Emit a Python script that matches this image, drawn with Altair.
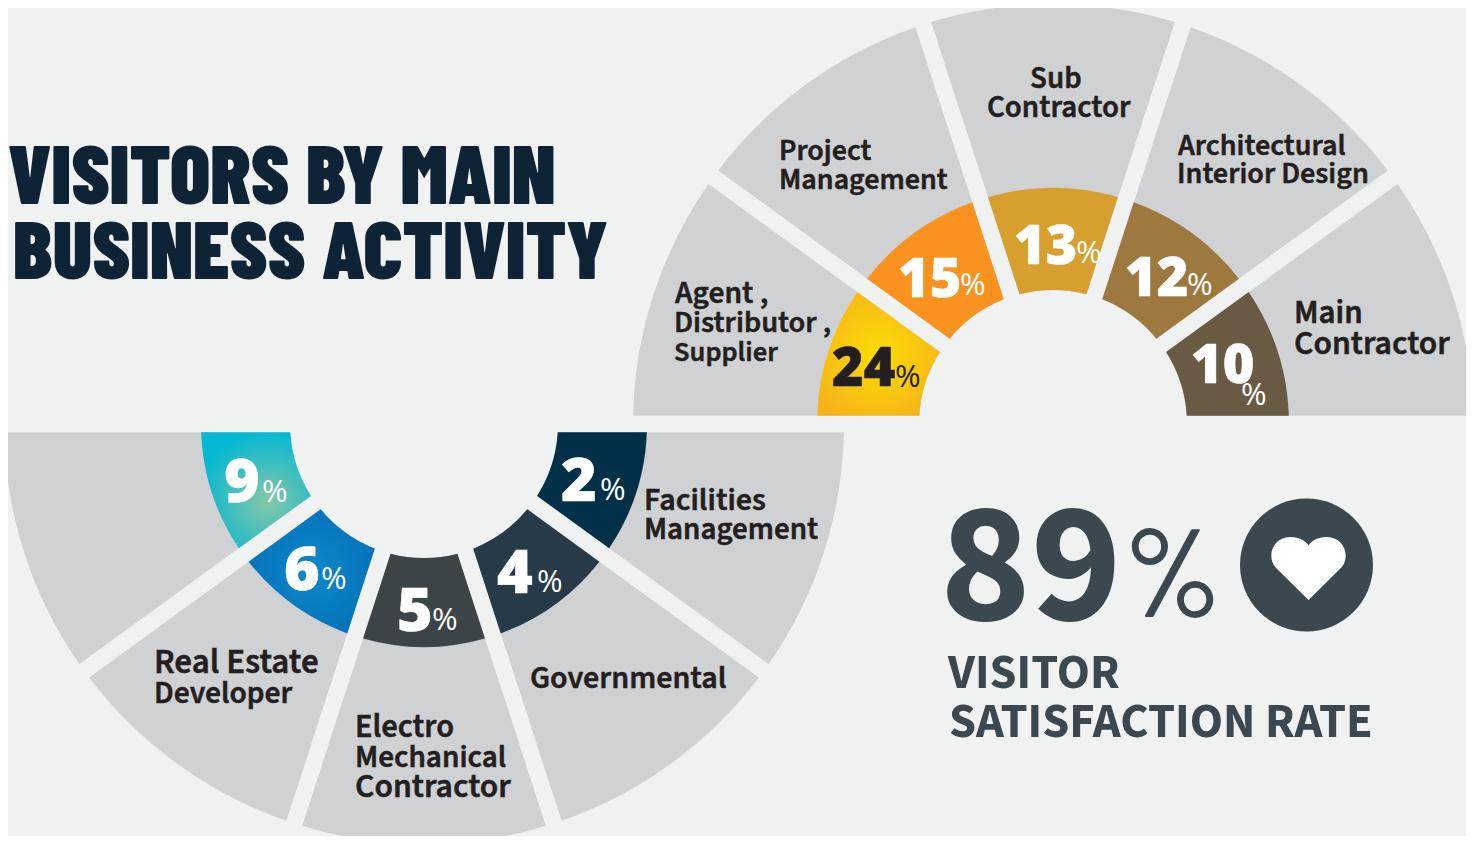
import altair as alt
import pandas as pd

OX, OY = 8, 8  # page margin
BG = "#f0f2f1"
GREY = "#d0d1d3"
INK = "#231f20"
SLATE = "#3b4850"
SOURCE = "'Source Sans 3', 'Source Sans Pro', 'Open Sans', sans-serif"
TITLE_FONT = "'Barlow Condensed', 'Liberation Sans', sans-serif"
NARROW = "'Barlow Condensed', 'Open Sans', sans-serif"

upper_names = ["Agent , Distributor , Supplier", "Project Management", "Sub Contractor",
               "Architectural Interior Design", "Main Contractor"]
upper_values = [24, 15, 13, 12, 10]
upper_colors = ["#f8c810", "#f9921f", "#d69f2e", "#9d7940", "#685a43"]

lower_names = ["Facilities Management", "Governmental", "Electro Mechanical Contractor",
               "Real Estate Developer", ""]
lower_values = [2, 4, 5, 6, 9]
lower_colors = ["#003148", "#263a47", "#3d4447", "#0a7cc1", "#4fbfc0"]

satisfaction = 89
SLICE = 36


def table(values, colors, first):
    return pd.DataFrame({
        "value": values,
        "color": colors,
        "start": [first + SLICE * i for i in range(len(values))],
        "end": [first + SLICE * (i + 1) for i in range(len(values))],
    })


up = table(upper_values, upper_colors, -90)
lo = table(lower_values, lower_colors, 90)
one = pd.DataFrame({"a": [0]})

theta_scale = alt.Scale(domain=[-90, 270], range=[-1.5707963, 4.7123890])


def slices(df, cx, cy, r2, r1, pad, fill=None):
    kw = dict(radius=r1, radius2=r2, padAngle=pad)
    enc = dict(
        theta=alt.Theta("start:Q", scale=theta_scale),
        theta2=alt.Theta2("end:Q"),
        x=alt.value(cx - OX),
        y=alt.value(cy - OY),
    )
    if fill is None:
        return alt.Chart(df).mark_arc(**kw).encode(color=alt.Color("color:N", scale=None), **enc)
    return alt.Chart(df).mark_arc(fill=fill, **kw).encode(**enc)


def radial(inner, outer, cx=0.5, cy=0.5, r=0.6):
    return alt.RadialGradient(
        gradient="radial", x1=cx, y1=cy, x2=cx, y2=cy, r1=0, r2=r,
        stops=[alt.GradientStop(color=inner, offset=0), alt.GradientStop(color=outer, offset=1)],
    )


def txt(s, x, y, size, color=INK, font=SOURCE, weight="bold", stroke=0.0, align="left"):
    kw = dict(font=font, fontSize=size, fontWeight=weight, color=color, align=align, baseline="alphabetic")
    if stroke:
        kw.update(stroke=color, strokeWidth=stroke)
    return alt.Chart(one).mark_text(**kw).encode(
        x=alt.value(x - OX), y=alt.value(y - OY), text=alt.value(s))


def pct(v, x, y, px, py, color="white", size=54):
    return [
        txt(str(v), x, y, size, color=color, font="Open Sans", weight=800, stroke=0.6),
        txt("%", px, py, 31, color=color, font="Open Sans", weight="normal"),
    ]


layers = []
# grey sectors
layers.append(slices(up.assign(color=GREY), 1053, 424, 134, 420, 0.0376))
layers.append(slices(lo.assign(color=GREY), 424, 424, 134, 420, 0.0376))
# coloured rings
layers.append(slices(up[up.value != 24], 1053, 424, 134, 236, 0.0612))
layers.append(slices(up[up.value == 24], 1053, 424, 134, 236, 0.0612,
                     fill=radial("#fbdc03", "#f6b41a")))
layers.append(slices(lo[~lo.value.isin([6, 9])], 424, 424, 134, 223, 0.0638))
layers.append(slices(lo[lo.value == 9], 424, 424, 134, 223, 0.0638,
                     fill=radial("#85c7a6", "#06b8d2", cx=0.6, cy=0.6)))
layers.append(slices(lo[lo.value == 6], 424, 424, 134, 223, 0.0638,
                     fill=radial("#0d88ca", "#046fb8")))

# title
layers.append(txt("VISITORS BY MAIN", 8, 204, 83, color="#0e2335", font=TITLE_FONT, weight=900))
layers.append(txt("BUSINESS ACTIVITY", 13, 279, 82, color="#0e2335", font=TITLE_FONT, weight=900))

# percentages
layers += pct(24, 832, 386, 895, 387, color=INK)
layers += pct(15, 898, 297, 960, 295)
layers += pct(13, 1014, 264, 1076, 263)
layers += pct(12, 1125, 296, 1187, 295)
layers += pct(10, 1191, 383, 1241, 405)
layers += pct(9, 224, 502, 262, 502, size=61)
layers += pct(6, 284, 590, 321, 589, size=61)
layers += pct(5, 397, 631, 432, 630, size=61)
layers += pct(4, 497, 593, 537, 592, size=61)
layers += pct(2, 561, 501, 600, 500, size=61)

# sector labels
for s, x, y, size in [
    ("Agent ,", 675, 303, 31.5), ("Distributor ,", 674, 332, 30.5), ("Supplier", 674, 361, 28.5),
    ("Project", 779, 160, 30), ("Management", 779, 189, 30),
    ("Sub", 1030, 88, 31), ("Contractor", 987, 117, 31),
    ("Architectural", 1178, 155, 30.2), ("Interior Design", 1177, 183, 30.2),
    ("Main", 1294, 323, 33), ("Contractor", 1294, 354, 33.7),
    ("Facilities", 644, 510, 32), ("Management", 644, 539, 31),
    ("Governmental", 530, 688, 32),
    ("Real Estate", 154, 673, 35), ("Developer", 154, 703, 31.5),
    ("Electro", 355, 737, 32.6), ("Mechanical", 355, 767, 31.2), ("Contractor", 355, 797, 33.7),
]:
    layers.append(txt(s, x, y, size, weight=600, stroke=0.5))

# satisfaction block
layers.append(txt(str(satisfaction), 940, 620, 172, color=SLATE))
layers.append(txt("%", 1124, 617, 125, color=SLATE, font=NARROW, weight=500))
layers.append(txt("VISITOR", 948, 688, 48.5, color=SLATE))
layers.append(txt("SATISFACTION RATE", 949, 737, 48.7, color=SLATE))
layers.append(alt.Chart(one).mark_circle(size=17689, color=SLATE, opacity=1).encode(
    x=alt.value(1306.5 - OX), y=alt.value(565 - OY)))
HEART = ("M0,0.863 L-0.9,-0.03 C-1.15,-0.3 -1,-0.863 -0.5,-0.863 C-0.25,-0.863 -0.08,-0.75 0,-0.64 "
         "C0.08,-0.75 0.25,-0.863 0.5,-0.863 C1,-0.863 1.15,-0.3 0.9,-0.03 Z")
layers.append(alt.Chart(one).mark_point(shape=HEART, size=5329, filled=True, color="white", opacity=1).encode(
    x=alt.value(1308.5 - OX), y=alt.value(568.5 - OY)))

chart = alt.layer(*layers).properties(
    width=1458, height=828, background=BG, padding=0, autosize=alt.AutoSizeParams(type="none")
).configure_view(stroke=None)

chart.save("out.html", embed_options={"renderer": "svg", "actions": False})
